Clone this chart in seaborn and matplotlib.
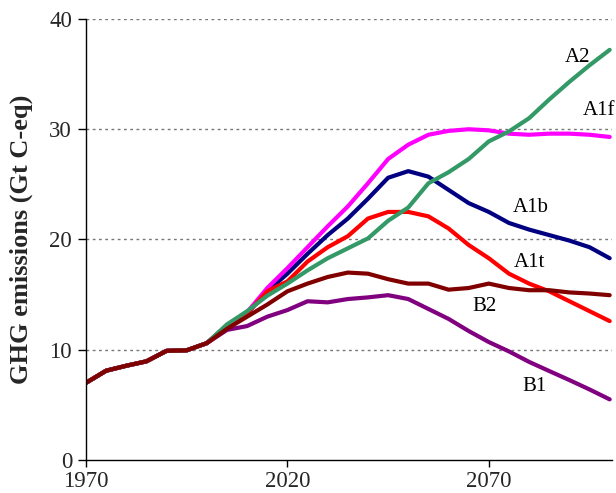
import numpy as np
import pandas as pd
import matplotlib
matplotlib.use("Agg")
import matplotlib.pyplot as plt
import seaborn as sns

# Emission pathways, 5-year steps
years = list(range(1970, 2101, 5))
history = [7.0, 8.1, 8.55, 8.95, 9.9, 9.95, 10.6]  # 1970-2000, shared by all scenarios

a1f = [12.2, 13.4, 15.6, 17.4, 19.3, 21.2, 23.0, 25.1, 27.3, 28.6, 29.5, 29.85, 30.0,
       29.9, 29.6, 29.5, 29.6, 29.6, 29.5, 29.3]
a1b = [12.2, 13.3, 15.3, 16.9, 18.7, 20.4, 21.9, 23.7, 25.6, 26.2, 25.7, 24.5, 23.3,
       22.5, 21.5, 20.9, 20.4, 19.9, 19.3, 18.3]
a1t = [12.2, 13.3, 15.3, 16.2, 18.0, 19.3, 20.3, 21.9, 22.5, 22.5, 22.1, 21.0, 19.5,
       18.3, 16.9, 16.0, 15.3, 14.4, 13.5, 12.6]
a2 = [12.3, 13.5, 14.9, 16.0, 17.2, 18.3, 19.2, 20.1, 21.7, 22.9, 25.1, 26.1, 27.3,
      28.9, 29.8, 31.0, 32.7, 34.3, 35.8, 37.2]
b2 = [11.9, 13.0, 14.1, 15.3, 16.0, 16.6, 17.0, 16.9, 16.4, 16.0, 16.0, 15.45, 15.6,
      16.0, 15.6, 15.4, 15.4, 15.2, 15.1, 14.95]
b1 = [11.8, 12.15, 13.0, 13.6, 14.4, 14.3, 14.6, 14.75, 14.95, 14.6, 13.7, 12.8, 11.7,
      10.7, 9.85, 8.9, 8.07, 7.25, 6.4, 5.5]

scenarios = ["B1", "A1b", "A1f", "A1t", "A2", "B2"]
series = {"B1": b1, "A1b": a1b, "A1f": a1f, "A1t": a1t, "A2": a2, "B2": b2}
colors = {"A1f": "#FF00FF", "A1b": "#000080", "A1t": "#FF0000",
          "A2": "#339966", "B2": "#800000", "B1": "#800080"}

# label anchor positions (year, value)
label_pos = {"A2": (2092, 36.5), "A1f": (2097.3, 31.7), "A1b": (2080.4, 22.9),
             "A1t": (2080, 17.95), "B2": (2069, 13.9), "B1": (2081.4, 6.66)}

rows = []
for s in scenarios:
    for y, v in zip(years, history + series[s]):
        rows.append({"year": y, "value": v, "scenario": s})
df = pd.DataFrame(rows)

sns.set_style("ticks")
plt.rcParams["font.family"] = ["Liberation Serif", "DejaVu Serif"]

fig = plt.figure(figsize=(6.16, 4.93), dpi=100)
ax = fig.add_axes([0.1396, 0.0669, 0.8534, 0.8946])

# gridlines behind the curves
for gy in [10, 20, 30, 40]:
    ax.axhline(gy, color="#777777", lw=1.0, ls=(0, (2, 2.5)), zorder=0)

sns.lineplot(data=df, x="year", y="value", hue="scenario", hue_order=scenarios,
             palette=colors, lw=3.0, legend=False, ax=ax, sort=False)

for s, (lx, ly) in label_pos.items():
    ax.text(lx, ly, s, ha="center", va="center", fontsize=15, color="black")

ax.set_xlim(1970, 2100.5)
ax.set_ylim(0, 40)
ax.set_xticks([1970, 2020, 2070])
ax.set_yticks([0, 10, 20, 30, 40])
ax.tick_params(direction="out", width=1, labelsize=16.5, color="black")
ax.tick_params(axis="y", length=6, pad=4)
ax.tick_params(axis="x", length=5, pad=3)
ax.set_xlabel("")
ax.set_ylabel("GHG emissions (Gt C-eq)", fontsize=19, fontweight="bold", labelpad=12)
for side in ["top", "right"]:
    ax.spines[side].set_visible(False)
for side in ["left", "bottom"]:
    ax.spines[side].set_color("black")
    ax.spines[side].set_linewidth(1)

fig.savefig("out.png", dpi=100)
